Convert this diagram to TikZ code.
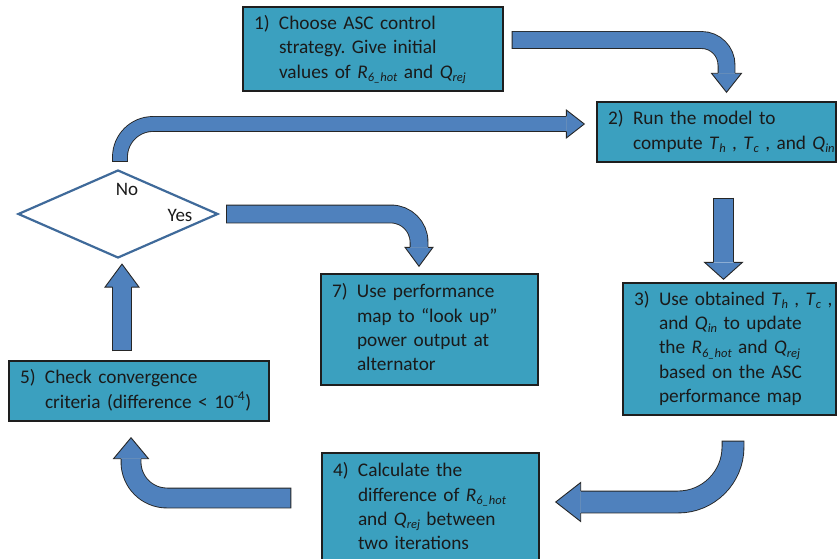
\documentclass[tikz,border=0pt]{standalone}
\usepackage{fontspec}
\setmainfont{Carlito}
\usetikzlibrary{calc,shapes.geometric}
\definecolor{StepFill}{HTML}{3BA0BF}
\definecolor{StepEdge}{HTML}{1E1E1E}
\definecolor{StepText}{HTML}{1A1A1A}
\definecolor{ArrowBlue}{HTML}{4F81BD}
\definecolor{ArrowEdge}{HTML}{262626}
\definecolor{DecisionEdge}{HTML}{3F6A9A}
\frenchspacing
\newcommand{\flowvar}[2]{\textit{#1}\raisebox{-0.35ex}{\fontsize{12.5}{12.5}\selectfont\textit{#2}}}
% head of a block arrow: base, tip, half shaft, half head
\newcommand{\flowhead}[4]{%
  \filldraw[headtip] ($(#1)!#3!90:(#2)$) -- ($(#1)!#4!90:(#2)$) -- (#2)
    -- ($(#1)!#4!-90:(#2)$) -- ($(#1)!#3!-90:(#2)$);}

\begin{document}
\begin{tikzpicture}[x=1pt, y=-1pt,
    stepbox/.style={draw=StepEdge, fill=StepFill, line width=1.4pt, text=StepText,
                    font=\fontsize{19.3}{24.4}\selectfont, align=left,
                    inner xsep=11pt, inner ysep=0pt},
    decision/.style={diamond, draw=DecisionEdge, fill=white, line width=2.2pt,
                     minimum width=200pt, minimum height=88pt, aspect=2.27, inner sep=0pt},
    answer/.style={text=StepText, font=\fontsize{19}{22}\selectfont, inner sep=0pt},
    shaft/.style={draw=ArrowEdge, line width=#1+1.8pt,
                  postaction={draw=ArrowBlue, line width=#1, shorten <=0.9pt}},
    headtip/.style={fill=ArrowBlue, draw=ArrowEdge, line width=0.9pt, line join=miter}
]
    \path[use as bounding box, clip] (0,0) rectangle (838,559);

    \node[stepbox, text width=238pt, minimum height=84pt] (b1) at (373,49)
        {\begin{tabular}{@{}p{25pt}@{}l@{}}
         1) & Choose ASC control\\
            & strategy. Give initial\\
            & values of \flowvar{R}{6\_hot} and \flowvar{Q}{rej}
         \end{tabular}};
    \node[stepbox, text width=217pt, minimum height=60pt] (b2) at (716.5,132)
        {\begin{tabular}{@{}p{25pt}@{}l@{}}
         2) & Run the model to\\
            & compute \flowvar{T}{h} , \flowvar{T}{c} , and \flowvar{Q}{in}
         \end{tabular}};
    \node[stepbox, text width=191pt, minimum height=132pt] (b3) at (729.5,349)
        {\begin{tabular}{@{}p{25pt}@{}l@{}}
         3) & Use obtained \flowvar{T}{h} , \flowvar{T}{c} ,\\
            & and \flowvar{Q}{in} to update\\
            & the \flowvar{R}{6\_hot} and \flowvar{Q}{rej}\\
            & based on the ASC\\
            & performance map
         \end{tabular}};
    \node[stepbox, text width=195pt, minimum height=111pt] (b4) at (430.5,508.5)
        {\begin{tabular}{@{}p{25pt}@{}l@{}}
         4) & Calculate the\\
            & difference of \flowvar{R}{6\_hot}\\
            & and \flowvar{Q}{rej} between\\
            & two iterations
         \end{tabular}};
    \node[stepbox, text width=238pt, minimum height=60pt] (b5) at (139,391)
        {\begin{tabular}{@{}p{25pt}@{}l@{}}
         5) & Check convergence\\
            & criteria (difference < 10\textsuperscript{-4})
         \end{tabular}};
    \node[decision] (d6) at (118,214) {};
    \node[answer] (no) at ($(d6.center)+(9,-25)$) {No};
    \node[answer] (yes) at ($(d6.center)+(62,1)$) {Yes};
    \node[stepbox, text width=195pt, minimum height=111pt] (b7) at (429.5,329.5)
        {\begin{tabular}{@{}p{25pt}@{}l@{}}
         7) & Use performance\\
            & map to “look up”\\
            & power output at\\
            & alternator
         \end{tabular}};

    % 1 -> 2
    \coordinate (a1s) at ($(b1.east)+(8,-9)$);
    \coordinate (a1t) at ($(b2.north)+(10,-9)$);
    \coordinate (a1b) at ($(a1t)+(0,-19)$);
    \draw[shaft=16pt, rounded corners=25pt] (a1s) -| (a1b);
    \flowhead{a1b}{a1t}{8.5pt}{15pt}

    % 2 -> 3
    \coordinate (a2t) at ($(b3.north)+(-6,-3)$);
    \coordinate (a2s) at ($(a2t |- b2.south)+(0,35)$);
    \coordinate (a2b) at ($(a2t)+(0,-17)$);
    \draw[shaft=19pt] (a2s) -- (a2b);
    \flowhead{a2b}{a2t}{10pt}{19pt}

    % 3 -> 4
    \coordinate (a3s) at ($(b3.south)+(3.5,25)$);
    \coordinate (a3t) at ($(b4.east)+(16,-6.5)$);
    \coordinate (a3b) at ($(a3t)+(25,0)$);
    \draw[shaft=21pt, rounded corners=55pt] (a3s) |- (a3b);
    \flowhead{a3b}{a3t}{11pt}{19.5pt}

    % 4 -> 5
    \coordinate (a4s) at ($(b4.west)+(-30,-10.5)$);
    \coordinate (a4t) at ($(b5.south)+(-8,16)$);
    \coordinate (a4b) at ($(a4t)+(0,21)$);
    \draw[shaft=19pt, rounded corners=36pt] (a4s) -| (a4b);
    \flowhead{a4b}{a4t}{10pt}{17.5pt}

    % 5 -> decision
    \coordinate (a5s) at ($(b5.north)+(-17,-9)$);
    \coordinate (a5t) at ($(d6.south)+(4,5)$);
    \coordinate (a5b) at ($(a5t)+(0,23)$);
    \draw[shaft=18pt] (a5s) -- (a5b);
    \flowhead{a5b}{a5t}{9.5pt}{17pt}

    % no: back to 2
    \coordinate (a6s) at ($(d6.north)+(2,-7)$);
    \coordinate (a6t) at ($(b2.west)+(-12,-8)$);
    \coordinate (a6b) at ($(a6t)+(-18,0)$);
    \draw[shaft=14pt, rounded corners=33pt] (a6s) |- (a6b);
    \flowhead{a6b}{a6t}{7.5pt}{14pt}

    % yes: on to 7
    \coordinate (a7s) at ($(d6.east)+(7,0)$);
    \coordinate (a7t) at ($(b7.north)+(-10.5,-7)$);
    \coordinate (a7b) at ($(a7t)+(0,-19)$);
    \draw[shaft=17pt, rounded corners=28pt] (a7s) -| (a7b);
    \flowhead{a7b}{a7t}{9pt}{14pt}
\end{tikzpicture}
\end{document}
